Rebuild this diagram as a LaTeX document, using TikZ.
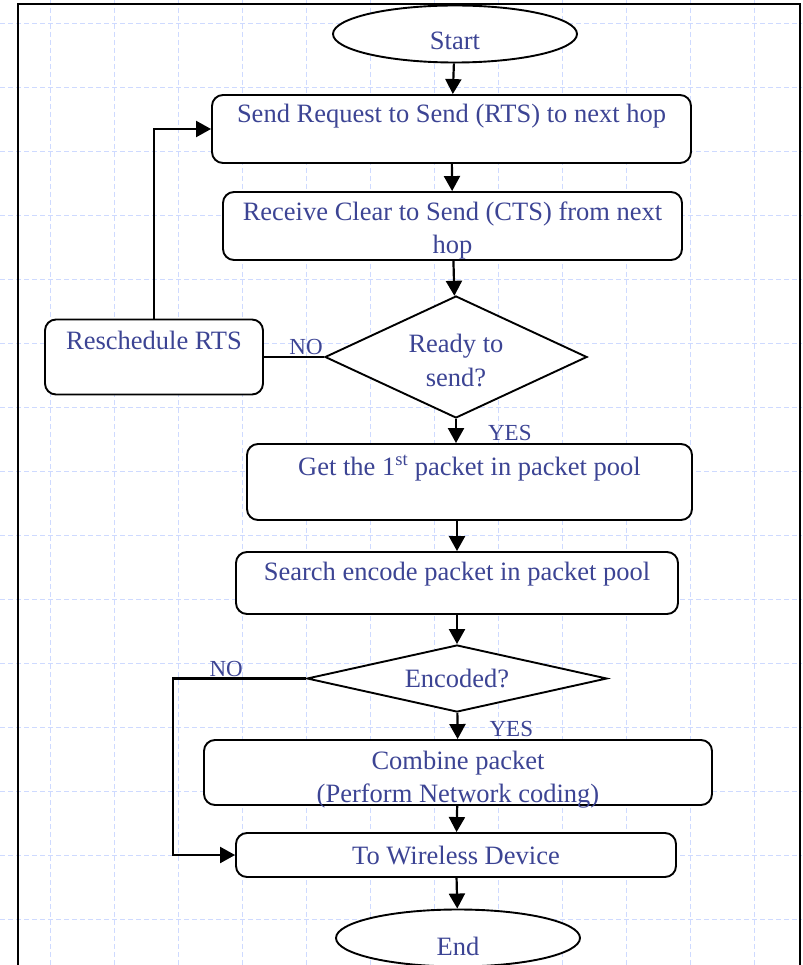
\documentclass[tikz,border=0pt]{standalone}
\usepackage{fontspec}
\setmainfont{Liberation Serif}
\usetikzlibrary{shapes,arrows,arrows.meta}
\definecolor{flowtext}{RGB}{60,68,148}
\definecolor{gridblue}{RGB}{206,218,255}
\tikzstyle{block} = [rectangle, draw, fill=white, line width=1.9pt, text=flowtext,
    text centered, align=center, rounded corners=11pt, inner sep=0pt,
    font=\fontsize{26.5}{33}\selectfont]
\tikzstyle{decision} = [diamond, draw, fill=white, line width=1.9pt, text=flowtext,
    align=center, inner sep=0pt, font=\fontsize{26.5}{34}\selectfont]
\tikzstyle{terminal} = [ellipse, draw, fill=white, line width=1.9pt, text=flowtext,
    inner sep=0pt, minimum width=244pt, minimum height=57pt, text height=31pt,
    text depth=0pt, font=\fontsize{26.5}{33}\selectfont]
\tikzstyle{answer} = [text=flowtext, inner sep=1pt, font=\fontsize{23}{26}\selectfont]
\tikzstyle{gridline} = [draw=gridblue, line width=0.8pt, dash pattern=on 5pt off 3pt]
\tikzset{
  line/.style ={draw, line width=2.2pt, -{Triangle[length=15pt,width=16pt]}, shorten >=0pt}
}

\begin{document}
\begin{tikzpicture}[x=1pt, y=-1pt, node distance=95pt, auto]
   \useasboundingbox (0,0) rectangle (802,965);
   \foreach \gx in {50,114,...,754} \draw [gridline] (\gx,0) -- (\gx,965);
   \foreach \gy in {23,87,...,919} \draw [gridline] (0,\gy) -- (802,\gy);
   \draw [line width=1.9pt] (18,990) -- (18,4) -- (800,4) -- (800,990);
   \node [terminal] (start) at (455,34) {Start};
   \node [block,below of=start,xshift=-3.5pt,minimum width=479pt,text height=28pt,text depth=40pt] (send_rts) {Send Request to Send (RTS) to next hop};
   \node [block,below of=send_rts,node distance=97pt,xshift=1pt,minimum width=459pt,minimum height=68pt,text height=61pt] (receive_cts) {Receive Clear to Send (CTS) from next\\hop};
   \node [decision,below of=receive_cts,node distance=131pt,xshift=3.5pt,aspect=2.15,minimum width=262pt,minimum height=122pt,text height=60pt] (if_ready) {Ready to\\send?};
   \node [block,left of=if_ready,node distance=302pt,minimum width=218pt,text height=30pt,text depth=45pt] (reschedule) {Reschedule RTS};
   \node [block,below of=if_ready,node distance=125pt,xshift=13.5pt,minimum width=445pt,text height=31pt,text depth=45pt] (first_packet) {Get the 1\textsuperscript{st} packet in packet pool};
   \node [block,below of=first_packet,node distance=101pt,xshift=-12.5pt,minimum width=442pt,text height=28pt,text depth=34pt] (search) {Search encode packet in packet pool};
   \node [decision,below of=search,node distance=95.5pt,aspect=4.48,minimum width=300pt,minimum height=67pt] (if_encoded) {Encoded?};
   \node [block,below of=if_encoded,node distance=94pt,xshift=1pt,minimum width=508pt,minimum height=65pt,text height=60pt,text depth=0pt] (combine) {Combine packet\\(Perform Network coding)};
   \node [block,below of=combine,node distance=82.5pt,xshift=-2pt,minimum width=440pt,minimum height=44pt] (wireless) {To Wireless Device};
   \node [terminal,below of=wireless,node distance=83pt,xshift=2pt,text height=34pt] (finish) {End};
   \path [line] (start) -- (send_rts);
   \path [line] (send_rts) -- (receive_cts);
   \path [line] (receive_cts) -- (if_ready);
   \draw [line width=1.9pt] (if_ready) -- node [answer,above,pos=0.3] {NO} (reschedule);
   \path [line] (reschedule) |- (send_rts);
   \path [line] (if_ready.south) -- node [answer,right,pos=0.6,xshift=30pt] {YES} (if_ready.south |- first_packet.north);
   \path [line] (first_packet.south -| search.north) -- (search.north);
   \path [line] (search) -- (if_encoded);
   \path [line] (if_encoded) -- node [answer,right,pos=0.6,xshift=30pt] {YES} (combine);
   \path [line] (if_encoded.west) -- node [answer,above,pos=0.6] {NO} ++(-133pt,0) |- (wireless);
   \path [line] (combine) -- (wireless);
   \path [line] (wireless) -- (finish);
\end{tikzpicture}
\end{document}
